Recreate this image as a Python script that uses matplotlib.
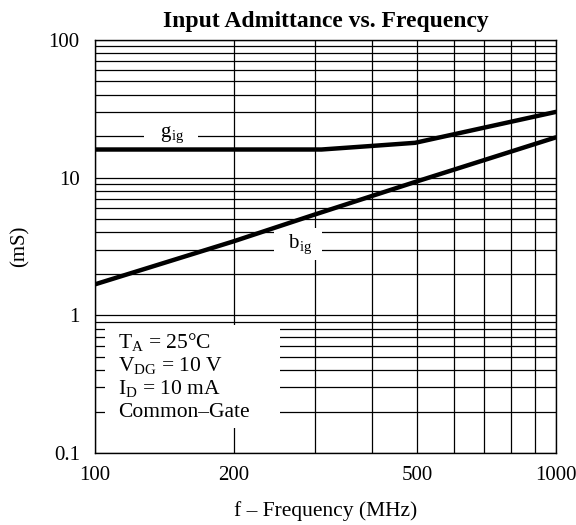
import numpy as np
import matplotlib
matplotlib.use('Agg')
import matplotlib.pyplot as plt
from matplotlib.patches import Rectangle
from matplotlib.ticker import FixedLocator, NullFormatter, FixedFormatter

plt.rcParams['font.family'] = ['Liberation Serif', 'DejaVu Serif']
plt.rcParams['mathtext.fontset'] = 'custom'
plt.rcParams['mathtext.rm'] = 'Liberation Serif'
plt.rcParams['mathtext.it'] = 'Liberation Serif'

#curves
freq_g = [100, 310, 410, 495, 1000]
g_ig = [16, 16, 17.1, 17.9, 30]
freq_b = [100, 200, 300, 500, 1000]
b_ig = [1.68, 3.45, 5.4, 9.4, 19.6]

x_ticks = [100, 200, 500, 1000]
x_tick_labels = ['100', '200', '500', '1000']
y_ticks = [0.1, 1, 10, 100]
y_tick_labels = ['0.1', '1', '10', '100']

conditions = ['T$_{\\mathrm{A}}$ = 25°C',
              'V$_{\\mathrm{DG}}$ = 10 V',
              'I$_{\\mathrm{D}}$ = 10 mA',
              'Common–Gate']


def main():
    fig = plt.figure(figsize=(5.76, 5.25), dpi=100)
    ax = fig.add_axes([0.165, 0.137, 0.8, 0.787])
    ax.set_xscale('log')
    ax.set_yscale('log')
    ax.set_xlim(100, 1000)
    ax.set_ylim(0.1, 100)

    #grid on every minor step
    ax.xaxis.set_major_locator(FixedLocator(x_ticks))
    ax.xaxis.set_major_formatter(FixedFormatter(x_tick_labels))
    ax.xaxis.set_minor_locator(FixedLocator(np.arange(100, 1001, 100)))
    ax.xaxis.set_minor_formatter(NullFormatter())
    ax.yaxis.set_major_locator(FixedLocator(y_ticks))
    ax.yaxis.set_major_formatter(FixedFormatter(y_tick_labels))
    y_minor = np.concatenate([np.arange(1, 10) * d for d in [0.1, 1, 10]])
    ax.yaxis.set_minor_locator(FixedLocator(y_minor))
    ax.yaxis.set_minor_formatter(NullFormatter())
    ax.grid(True, which='both', color='black', linewidth=0.9)
    ax.tick_params(which='both', length=0, labelsize=15)
    ax.tick_params(axis='y', pad=11)
    ax.tick_params(axis='x', pad=9)
    for s in ax.spines.values():
        s.set_linewidth(1.0)

    ax.plot(freq_g, g_ig, color='black', linewidth=3.2, solid_capstyle='round', zorder=4)
    ax.plot(freq_b, b_ig, color='black', linewidth=3.2, solid_capstyle='round', zorder=4)

    ax.text(146, 20.6, '   g$_{\\mathrm{ig}}$   ', fontsize=15, ha='center', va='center',
            bbox=dict(facecolor='white', edgecolor='none', pad=1), zorder=3)
    ax.text(276, 3.3, '  b$_{\\mathrm{ig}}$  ', fontsize=15, ha='center', va='center',
            bbox=dict(facecolor='white', edgecolor='none', pad=3), zorder=3)

    #white box with the test conditions
    ax.add_patch(Rectangle((0.022, 0.06), 0.38, 0.25, transform=ax.transAxes,
                           facecolor='white', edgecolor='none', zorder=2))
    for i, line in enumerate(conditions):
        ax.text(0.05, 0.27 - i * 0.057, line, transform=ax.transAxes, fontsize=15.5,
                ha='left', va='center', zorder=3)

    ax.set_title('Input Admittance vs. Frequency', fontsize=17, fontweight='bold', pad=9)
    ax.set_xlabel('f – Frequency (MHz)', fontsize=15.5, labelpad=12)
    ax.set_ylabel('(mS)', fontsize=15, labelpad=14)

    fig.savefig('out.png', dpi=100)


if __name__ == '__main__':
    main()
